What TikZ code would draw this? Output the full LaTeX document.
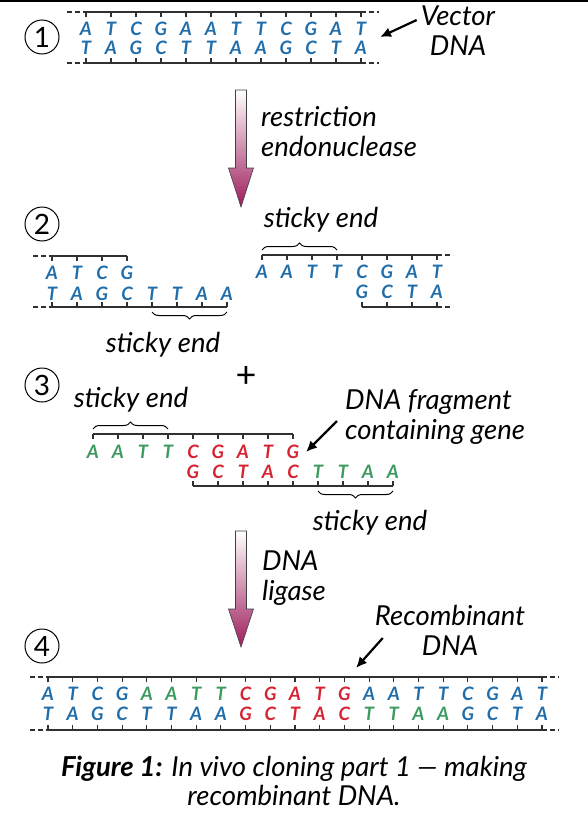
\documentclass[tikz,border=0pt]{standalone}
\usepackage{fontspec}
\setmainfont{Lato}
\usetikzlibrary{arrows.meta,decorations.pathreplacing,positioning}
\definecolor{dnablue}{HTML}{1F6DAA}
\definecolor{dnagreen}{HTML}{3B9A5E}
\definecolor{dnared}{HTML}{D62231}
\definecolor{enzyme}{HTML}{9E1C5C}
\definecolor{bbone}{HTML}{303030}

\begin{document}
\begin{tikzpicture}[x=1pt, y=-1pt,
    base/.style={font=\fontsize{18.5}{18.5}\selectfont\bfseries\itshape, inner sep=0pt},
    lbl/.style={font=\fontsize{27.5}{30}\selectfont\itshape, align=center, inner sep=0pt},
    stepnum/.style={draw, circle, line width=1pt, minimum size=34pt, inner sep=0pt, font=\fontsize{28}{28}\selectfont},
    strand/.style={line width=1.1pt, bbone},
    loose/.style={strand, dash pattern=on 5pt off 3pt},
    sticky/.style={decorate, decoration={brace, amplitude=7pt}, line width=1pt},
    pointer/.style={line width=2.2pt, -{Latex[length=11pt,width=10pt]}},
    bigarrow/.style={top color=white, bottom color=enzyme, draw=gray!50!black, line width=0.6pt}
  ]
    \useasboundingbox (0,0) rectangle (588,817);
    \draw[line width=2pt] (0,1) -- (588,1);

    % --- 1: vector DNA ---
    \node[stepnum] (s1) at (42,37) {1};
    \foreach \t/\b [count=\i from 0] in {A/T,T/A,C/G,G/C,A/T,A/T,T/A,T/A,C/G,G/C,A/T,T/A} {
      \node[base, text=dnablue] (r1t\i) at ({86+25*\i},29) {\t};
      \node[base, text=dnablue] (r1b\i) at ({86+25*\i},47.5) {\b};
      \draw[strand] ({86+25*\i},12) -- ++(0,5);
      \draw[strand] ({86+25*\i},63) -- ++(0,-5);
    }
    \draw[strand] (86,12) -- (361,12) (86,63) -- (361,63);
    \draw[loose] (67,12) -- (86,12) (361,12) -- (379,12) (67,63) -- (86,63) (361,63) -- (379,63);
    \node[lbl] (vector) at (458,31) {Vector\\DNA};
    \coordinate (vtip) at (380,37);
    \draw[pointer] ([xshift=-4pt,yshift=11pt]vector.west) -- (vtip);

    % restriction enzyme
    \shadedraw[bigarrow] (235.5,90) -- (246.5,90) -- (246.5,168) -- (253.5,168) -- (241,207) -- (228.5,168) -- (235.5,168) -- cycle;
    \node[lbl, align=left, anchor=west] (cut) at (261,132) {restriction\\endonuclease};

    % --- 2: cut vector ---
    \node[stepnum] (s2) at (42,224) {2};
    \foreach \t [count=\i from 0] in {A,T,C,G} {
      \node[base, text=dnablue] (r2t\i) at ({52+25*\i},273) {\t};
      \draw[strand] ({52+25*\i},256) -- ++(0,5);
    }
    \foreach \b [count=\i from 0] in {T,A,G,C,T,T,A,A} {
      \node[base, text=dnablue] (r2b\i) at ({52+25*\i},294) {\b};
      \draw[strand] ({52+25*\i},307) -- ++(0,-5);
    }
    \draw[strand] (52,256) -- (127,256) (52,307) -- (227,307);
    \draw[loose] (33,256) -- (52,256) (33,307) -- (52,307);
    \draw[sticky] (227,312) -- (152,312);
    \node[lbl] (end1) at (163,345) {sticky end};

    \foreach \t [count=\i from 0] in {A,A,T,T,C,G,A,T} {
      \node[base, text=dnablue] (r2u\i) at ({262+25*\i},272) {\t};
      \draw[strand] ({262+25*\i},255) -- ++(0,5);
    }
    \foreach \b [count=\i from 0] in {G,C,T,A} {
      \node[base, text=dnablue] (r2v\i) at ({362+25*\i},292) {\b};
      \draw[strand] ({362+25*\i},307) -- ++(0,-5);
    }
    \draw[strand] (262,255) -- (437,255) (362,307) -- (437,307);
    \draw[loose] (437,255) -- (453,255) (437,307) -- (453,307);
    \draw[sticky] (262,250) -- (337,250);
    \node[lbl] (end2) at (321,220) {sticky end};

    % --- 3: gene fragment ---
    \node[stepnum] (s3) at (42,385) {3};
    \node[font=\fontsize{36}{36}\selectfont\mdseries] (plus) at (246,377) {+};
    \foreach \t/\c [count=\i from 0] in {A/dnagreen,A/dnagreen,T/dnagreen,T/dnagreen,C/dnared,G/dnared,A/dnared,T/dnared,G/dnared} {
      \node[base, text=\c] (r3t\i) at ({93+25*\i},452) {\t};
      \draw[strand] ({93+25*\i},434) -- ++(0,5);
    }
    \foreach \b/\c [count=\i from 0] in {G/dnared,C/dnared,T/dnared,A/dnared,C/dnared,T/dnagreen,T/dnagreen,A/dnagreen,A/dnagreen} {
      \node[base, text=\c] (r3b\i) at ({193+25*\i},472) {\b};
      \draw[strand] ({193+25*\i},486) -- ++(0,-5);
    }
    \draw[strand] (93,434) -- (293,434) (193,486) -- (393,486);
    \draw[sticky] (93,429) -- (168,429);
    \node[lbl] (end3) at (131,400) {sticky end};
    \draw[sticky] (393,491) -- (318,491);
    \node[lbl] (end4) at (370,523) {sticky end};
    \node[lbl, align=left, anchor=west] (gene) at (345,417) {DNA fragment\\containing gene};
    \coordinate (gtip) at (306,452);
    \draw[pointer] ([xshift=-8pt,yshift=-4pt]gene.west) -- (gtip);

    % ligase
    \shadedraw[bigarrow] (235.5,531) -- (246.5,531) -- (246.5,609) -- (253.5,609) -- (241,647) -- (228.5,609) -- (235.5,609) -- cycle;
    \node[lbl, align=left, anchor=west] (ligase) at (262,578) {DNA\\ligase};

    % --- 4: recombinant DNA ---
    \node[stepnum] (s4) at (42,646) {4};
    \foreach \t/\tc/\b/\bc [count=\i from 0] in {
        A/dnablue/T/dnablue, T/dnablue/A/dnablue, C/dnablue/G/dnablue, G/dnablue/C/dnablue,
        A/dnagreen/T/dnablue, A/dnagreen/T/dnablue, T/dnagreen/A/dnablue, T/dnagreen/A/dnablue,
        C/dnared/G/dnared, G/dnared/C/dnared, A/dnared/T/dnared, T/dnared/A/dnared, G/dnared/C/dnared,
        A/dnablue/T/dnagreen, A/dnablue/T/dnagreen, T/dnablue/A/dnagreen, T/dnablue/A/dnagreen,
        C/dnablue/G/dnablue, G/dnablue/C/dnablue, A/dnablue/T/dnablue, T/dnablue/A/dnablue} {
      \node[base, text=\tc] (r4t\i) at ({48+24.7*\i},694) {\t};
      \node[base, text=\bc] (r4b\i) at ({48+24.7*\i},713.5) {\b};
      \draw[strand] ({48+24.7*\i},677) -- ++(0,5);
      \draw[strand] ({48+24.7*\i},730) -- ++(0,-5);
    }
    \draw[strand] (48,677) -- (542,677) (48,730) -- (542,730);
    \draw[loose] (30,677) -- (48,677) (542,677) -- (559,677) (30,730) -- (48,730) (542,730) -- (559,730);
    \node[lbl] (recomb) at (450,630) {Recombinant\\DNA};
    \coordinate (rtip) at (356,668);
    \draw[pointer] ([xshift=8pt,yshift=-8pt]recomb.west) -- (rtip);

    % caption
    \node[lbl, font=\fontsize{27.5}{28.5}\selectfont\itshape] (caption) at (294,781) {\textbf{Figure 1:} In vivo cloning part 1 — making\\recombinant DNA.};
  \end{tikzpicture}
\end{document}
